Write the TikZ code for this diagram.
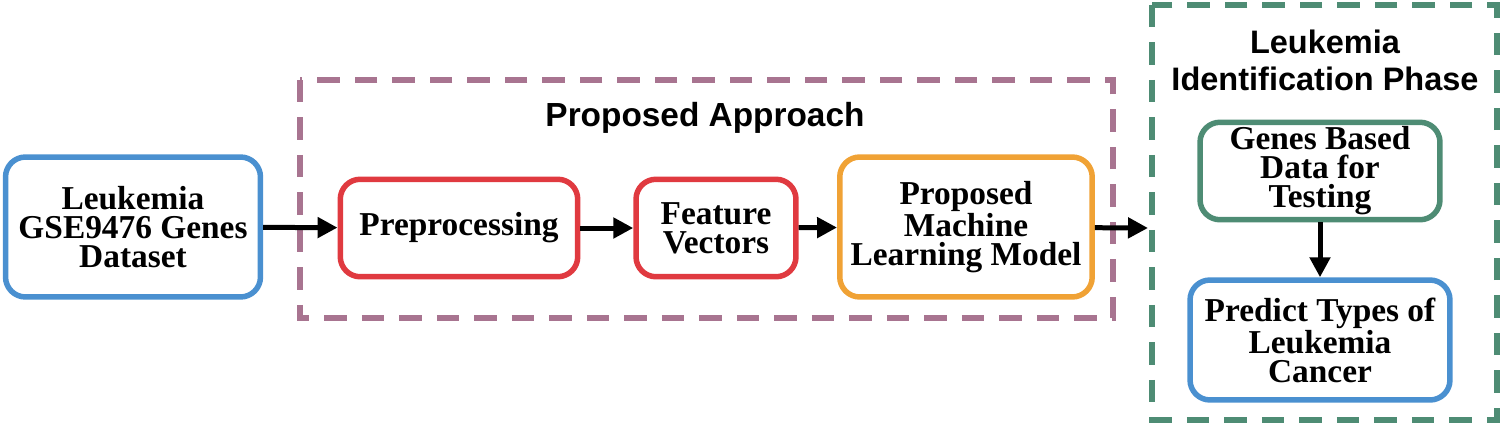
\documentclass[tikz,border=0pt]{standalone}
\usepackage{fontspec}
\setmainfont{Liberation Serif}
\setsansfont{Liberation Sans}
\usetikzlibrary{positioning,arrows.meta}
\definecolor{boxblue}{HTML}{4A90D0}
\definecolor{boxred}{HTML}{E03A40}
\definecolor{boxorange}{HTML}{F0A235}
\definecolor{framepurple}{HTML}{A87490}
\definecolor{framegreen}{HTML}{4E8C74}
\tikzset{box/.style = {draw,line width=1.1mm,rounded corners=4mm,align=center,font=\fontsize{19}{16.5}\selectfont\bfseries,inner sep=0pt,text=black},
         frame/.style = {draw,dashed,line width=1.1mm,dash pattern=on 4.5mm off 3mm},
         arr/.style = {-{Triangle[length=4mm,width=4mm]},line width=1mm}}
\begin{document}
\begin{tikzpicture}[x=0.02cm,y=-0.02cm]
    \useasboundingbox (0,0) rectangle (1505,426);
    \draw[frame,framepurple] (300,80) rectangle (1113,318);
    \draw[frame,framegreen] (1152,5) rectangle (1497,420);
    \node[font=\sffamily\bfseries\fontsize{19}{19}\selectfont] (pa) at (705,118) {Proposed Approach};
    \node[font=\sffamily\bfseries\fontsize{18.5}{21}\selectfont,align=center] (ip) at (1325,60) {Leukemia\\Identification Phase};
    \node[box,draw=boxblue,minimum width=5.1cm,minimum height=2.8cm] (data) at (133,227) {Leukemia\\GSE9476 Genes\\Dataset};
    \node[box,draw=boxred,minimum width=4.75cm,minimum height=1.95cm] (pre) at (459,228) {Preprocessing};
    \node[box,draw=boxred,minimum width=3.2cm,minimum height=1.95cm] (fv) at (716,228) {Feature\\Vectors};
    \node[box,draw=boxorange,minimum width=5.05cm,minimum height=2.8cm] (ml) at (966,227) {Proposed\\Machine\\Learning Model};
    \node[box,draw=framegreen,minimum width=4.8cm,minimum height=1.95cm] (test) at (1320,171) {Genes Based\\Data for\\Testing};
    \node[box,draw=boxblue,minimum width=5.2cm,minimum height=2.4cm] (pred) at (1320,340) {Predict Types of\\Leukemia\\Cancer};
    \coordinate (ipin) at (1148,228);
    \draw[arr] (data) -- (pre);
    \draw[arr] (pre) -- (fv);
    \draw[arr] (fv) -- (ml);
    \draw[arr] (ml) -- (ipin);
    \draw[arr] (test) -- (pred);
\end{tikzpicture}
\end{document}
